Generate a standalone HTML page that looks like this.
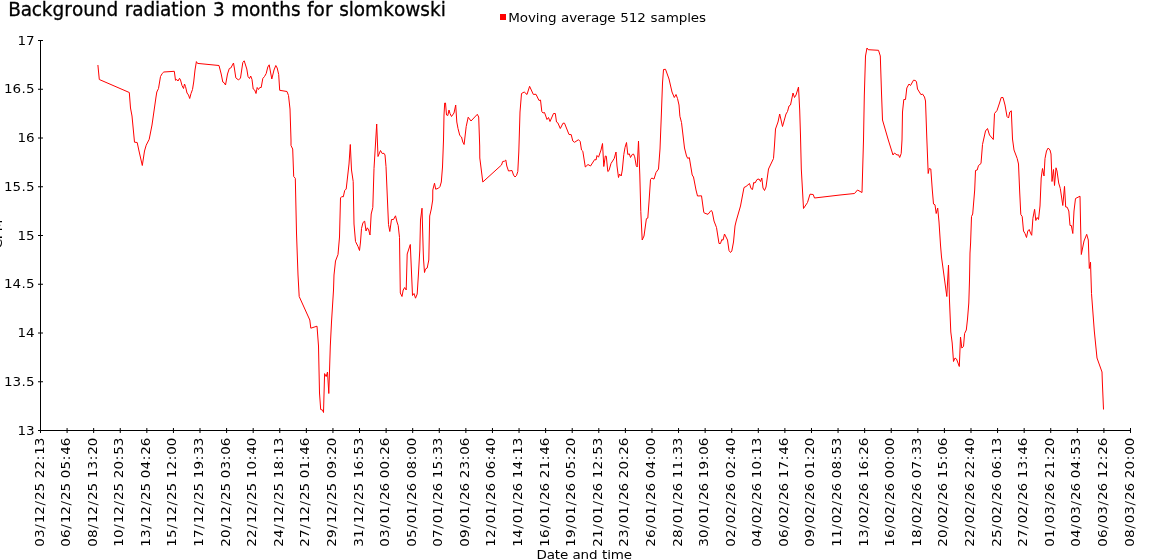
<!DOCTYPE html>
<html><head><meta charset="utf-8"><title>Background radiation 3 months for slomkowski</title>
<style>html,body{margin:0;padding:0;background:#fff;overflow:hidden}svg{display:block}text{font-family:'DejaVu Sans','Liberation Sans',sans-serif;fill:#000}</style></head><body>
<svg style="will-change:transform" width="1150" height="560" viewBox="0 0 1150 560">
<rect width="1150" height="560" fill="#fff"/>
<text font-size="18.47" stroke="#000" stroke-width=".3" transform="translate(0,15.9) scale(1,1.06)" y="0" x="8.25 20.8 31.74 41.74 52.45 64.21 71.9 83.15 94.84 106.43 118.35 124.68 132.3 143.4 154.99 159.97 171.2 178.43 183.48 194.73 206.73 212.91 224.97 231.14 249.07 260.32 272.03 279.28 290.98 300.92 307.09 313.55 324.95 332.99 339.18 348.77 353.82 365.06 383.16 393.93 405.19 420.3 430.04 440.82">Background radiation 3 months for slomkowski</text>
<rect x="500" y="14" width="6" height="6" fill="#f00"/>
<text font-size="13.5" transform="translate(0,21.9) scale(1,0.94)" x="508.25 519.7 527.9 535.85 539.55 548 556.7 561.11 569.28 577.11 585.37 590.93 599.01 607.35 615.73 620.22 628.78 637.34 646.13 650.63 657.56 665.71 678.74 687.19 690.77 698.92" y="0">Moving average 512 samples</text>
<g stroke="#000" stroke-width="1" fill="none">
<path d="M40.5 40V433"/>
<path d="M38 430.5H1131"/>
<path d="M38 40.5H43M38 89.25H43M38 138H43M38 186.75H43M38 235.5H43M38 284.25H43M38 333H43M38 381.75H43M38 430.5H43"/>
<path d="M40.5 428V433M67.09 428V433M93.67 428V433M120.26 428V433M146.84 428V433M173.43 428V433M200.01 428V433M226.6 428V433M253.18 428V433M279.77 428V433M306.35 428V433M332.94 428V433M359.52 428V433M386.11 428V433M412.7 428V433M439.28 428V433M465.87 428V433M492.45 428V433M519.04 428V433M545.62 428V433M572.21 428V433M598.79 428V433M625.38 428V433M651.96 428V433M678.55 428V433M705.13 428V433M731.72 428V433M758.3 428V433M784.89 428V433M811.48 428V433M838.06 428V433M864.65 428V433M891.23 428V433M917.82 428V433M944.4 428V433M970.99 428V433M997.57 428V433M1024.16 428V433M1050.74 428V433M1077.33 428V433M1103.91 428V433M1130.5 428V433"/>
</g>
<text font-size="13.5" transform="translate(0,44.6) scale(1,0.94)" x="17.43 26.01" y="0">17</text>
<text font-size="13.5" transform="translate(0,92.6) scale(1,0.94)" x="3.94 12.52 21.42 26.01" y="0">16.5</text>
<text font-size="13.5" transform="translate(0,141.6) scale(1,0.94)" x="17.43 26.01" y="0">16</text>
<text font-size="13.5" transform="translate(0,190.6) scale(1,0.94)" x="3.94 12.52 21.42 26.01" y="0">15.5</text>
<text font-size="13.5" transform="translate(0,239.6) scale(1,0.94)" x="17.43 26.01" y="0">15</text>
<text font-size="13.5" transform="translate(0,287.6) scale(1,0.94)" x="3.94 12.52 21.42 26.01" y="0">14.5</text>
<text font-size="13.5" transform="translate(0,336.6) scale(1,0.94)" x="17.43 26.01" y="0">14</text>
<text font-size="13.5" transform="translate(0,385.6) scale(1,0.94)" x="3.94 12.52 21.42 26.01" y="0">13.5</text>
<text font-size="13.5" transform="translate(0,434.6) scale(1,0.94)" x="17.43 26.01" y="0">13</text>
<text font-size="13.5" transform="translate(43.8,437.7) rotate(-90) scale(1,0.94)" x="-108.97 -100.38 -91.01 -85.67 -77.09 -67.71 -62.37 -53.79 -44.98 -40.46 -31.88 -22.5 -17.17 -8.59" y="0">03/12/25 22:13</text>
<text font-size="13.5" transform="translate(69.8,437.7) rotate(-90) scale(1,0.94)" x="-108.97 -100.38 -91.01 -85.67 -77.09 -67.71 -62.37 -53.79 -44.98 -40.46 -31.88 -22.5 -17.17 -8.59" y="0">06/12/25 05:46</text>
<text font-size="13.5" transform="translate(96.8,437.7) rotate(-90) scale(1,0.94)" x="-108.97 -100.38 -91.01 -85.67 -77.09 -67.71 -62.37 -53.79 -44.98 -40.46 -31.88 -22.5 -17.17 -8.59" y="0">08/12/25 13:20</text>
<text font-size="13.5" transform="translate(122.8,437.7) rotate(-90) scale(1,0.94)" x="-108.97 -100.38 -91.01 -85.67 -77.09 -67.71 -62.37 -53.79 -44.98 -40.46 -31.88 -22.5 -17.17 -8.59" y="0">10/12/25 20:53</text>
<text font-size="13.5" transform="translate(149.8,437.7) rotate(-90) scale(1,0.94)" x="-108.97 -100.38 -91.01 -85.67 -77.09 -67.71 -62.37 -53.79 -44.98 -40.46 -31.88 -22.5 -17.17 -8.59" y="0">13/12/25 04:26</text>
<text font-size="13.5" transform="translate(175.8,437.7) rotate(-90) scale(1,0.94)" x="-108.97 -100.38 -91.01 -85.67 -77.09 -67.71 -62.37 -53.79 -44.98 -40.46 -31.88 -22.5 -17.17 -8.59" y="0">15/12/25 12:00</text>
<text font-size="13.5" transform="translate(202.8,437.7) rotate(-90) scale(1,0.94)" x="-108.97 -100.38 -91.01 -85.67 -77.09 -67.71 -62.37 -53.79 -44.98 -40.46 -31.88 -22.5 -17.17 -8.59" y="0">17/12/25 19:33</text>
<text font-size="13.5" transform="translate(229.8,437.7) rotate(-90) scale(1,0.94)" x="-108.97 -100.38 -91.01 -85.67 -77.09 -67.71 -62.37 -53.79 -44.98 -40.46 -31.88 -22.5 -17.17 -8.59" y="0">20/12/25 03:06</text>
<text font-size="13.5" transform="translate(255.8,437.7) rotate(-90) scale(1,0.94)" x="-108.97 -100.38 -91.01 -85.67 -77.09 -67.71 -62.37 -53.79 -44.98 -40.46 -31.88 -22.5 -17.17 -8.59" y="0">22/12/25 10:40</text>
<text font-size="13.5" transform="translate(282.8,437.7) rotate(-90) scale(1,0.94)" x="-108.97 -100.38 -91.01 -85.67 -77.09 -67.71 -62.37 -53.79 -44.98 -40.46 -31.88 -22.5 -17.17 -8.59" y="0">24/12/25 18:13</text>
<text font-size="13.5" transform="translate(308.8,437.7) rotate(-90) scale(1,0.94)" x="-108.97 -100.38 -91.01 -85.67 -77.09 -67.71 -62.37 -53.79 -44.98 -40.46 -31.88 -22.5 -17.17 -8.59" y="0">27/12/25 01:46</text>
<text font-size="13.5" transform="translate(335.8,437.7) rotate(-90) scale(1,0.94)" x="-108.97 -100.38 -91.01 -85.67 -77.09 -67.71 -62.37 -53.79 -44.98 -40.46 -31.88 -22.5 -17.17 -8.59" y="0">29/12/25 09:20</text>
<text font-size="13.5" transform="translate(362.8,437.7) rotate(-90) scale(1,0.94)" x="-108.97 -100.38 -91.01 -85.67 -77.09 -67.71 -62.37 -53.79 -44.98 -40.46 -31.88 -22.5 -17.17 -8.59" y="0">31/12/25 16:53</text>
<text font-size="13.5" transform="translate(388.8,437.7) rotate(-90) scale(1,0.94)" x="-108.97 -100.38 -91.01 -85.67 -77.09 -67.71 -62.37 -53.79 -44.98 -40.46 -31.88 -22.5 -17.17 -8.59" y="0">03/01/26 00:26</text>
<text font-size="13.5" transform="translate(415.8,437.7) rotate(-90) scale(1,0.94)" x="-108.97 -100.38 -91.01 -85.67 -77.09 -67.71 -62.37 -53.79 -44.98 -40.46 -31.88 -22.5 -17.17 -8.59" y="0">05/01/26 08:00</text>
<text font-size="13.5" transform="translate(441.8,437.7) rotate(-90) scale(1,0.94)" x="-108.97 -100.38 -91.01 -85.67 -77.09 -67.71 -62.37 -53.79 -44.98 -40.46 -31.88 -22.5 -17.17 -8.59" y="0">07/01/26 15:33</text>
<text font-size="13.5" transform="translate(468.8,437.7) rotate(-90) scale(1,0.94)" x="-108.97 -100.38 -91.01 -85.67 -77.09 -67.71 -62.37 -53.79 -44.98 -40.46 -31.88 -22.5 -17.17 -8.59" y="0">09/01/26 23:06</text>
<text font-size="13.5" transform="translate(494.8,437.7) rotate(-90) scale(1,0.94)" x="-108.97 -100.38 -91.01 -85.67 -77.09 -67.71 -62.37 -53.79 -44.98 -40.46 -31.88 -22.5 -17.17 -8.59" y="0">12/01/26 06:40</text>
<text font-size="13.5" transform="translate(521.8,437.7) rotate(-90) scale(1,0.94)" x="-108.97 -100.38 -91.01 -85.67 -77.09 -67.71 -62.37 -53.79 -44.98 -40.46 -31.88 -22.5 -17.17 -8.59" y="0">14/01/26 14:13</text>
<text font-size="13.5" transform="translate(548.8,437.7) rotate(-90) scale(1,0.94)" x="-108.97 -100.38 -91.01 -85.67 -77.09 -67.71 -62.37 -53.79 -44.98 -40.46 -31.88 -22.5 -17.17 -8.59" y="0">16/01/26 21:46</text>
<text font-size="13.5" transform="translate(574.8,437.7) rotate(-90) scale(1,0.94)" x="-108.97 -100.38 -91.01 -85.67 -77.09 -67.71 -62.37 -53.79 -44.98 -40.46 -31.88 -22.5 -17.17 -8.59" y="0">19/01/26 05:20</text>
<text font-size="13.5" transform="translate(601.8,437.7) rotate(-90) scale(1,0.94)" x="-108.97 -100.38 -91.01 -85.67 -77.09 -67.71 -62.37 -53.79 -44.98 -40.46 -31.88 -22.5 -17.17 -8.59" y="0">21/01/26 12:53</text>
<text font-size="13.5" transform="translate(627.8,437.7) rotate(-90) scale(1,0.94)" x="-108.97 -100.38 -91.01 -85.67 -77.09 -67.71 -62.37 -53.79 -44.98 -40.46 -31.88 -22.5 -17.17 -8.59" y="0">23/01/26 20:26</text>
<text font-size="13.5" transform="translate(654.8,437.7) rotate(-90) scale(1,0.94)" x="-108.97 -100.38 -91.01 -85.67 -77.09 -67.71 -62.37 -53.79 -44.98 -40.46 -31.88 -22.5 -17.17 -8.59" y="0">26/01/26 04:00</text>
<text font-size="13.5" transform="translate(681.8,437.7) rotate(-90) scale(1,0.94)" x="-108.97 -100.38 -91.01 -85.67 -77.09 -67.71 -62.37 -53.79 -44.98 -40.46 -31.88 -22.5 -17.17 -8.59" y="0">28/01/26 11:33</text>
<text font-size="13.5" transform="translate(707.8,437.7) rotate(-90) scale(1,0.94)" x="-108.97 -100.38 -91.01 -85.67 -77.09 -67.71 -62.37 -53.79 -44.98 -40.46 -31.88 -22.5 -17.17 -8.59" y="0">30/01/26 19:06</text>
<text font-size="13.5" transform="translate(734.8,437.7) rotate(-90) scale(1,0.94)" x="-108.97 -100.38 -91.01 -85.67 -77.09 -67.71 -62.37 -53.79 -44.98 -40.46 -31.88 -22.5 -17.17 -8.59" y="0">02/02/26 02:40</text>
<text font-size="13.5" transform="translate(760.8,437.7) rotate(-90) scale(1,0.94)" x="-108.97 -100.38 -91.01 -85.67 -77.09 -67.71 -62.37 -53.79 -44.98 -40.46 -31.88 -22.5 -17.17 -8.59" y="0">04/02/26 10:13</text>
<text font-size="13.5" transform="translate(787.8,437.7) rotate(-90) scale(1,0.94)" x="-108.97 -100.38 -91.01 -85.67 -77.09 -67.71 -62.37 -53.79 -44.98 -40.46 -31.88 -22.5 -17.17 -8.59" y="0">06/02/26 17:46</text>
<text font-size="13.5" transform="translate(813.8,437.7) rotate(-90) scale(1,0.94)" x="-108.97 -100.38 -91.01 -85.67 -77.09 -67.71 -62.37 -53.79 -44.98 -40.46 -31.88 -22.5 -17.17 -8.59" y="0">09/02/26 01:20</text>
<text font-size="13.5" transform="translate(840.8,437.7) rotate(-90) scale(1,0.94)" x="-108.97 -100.38 -91.01 -85.67 -77.09 -67.71 -62.37 -53.79 -44.98 -40.46 -31.88 -22.5 -17.17 -8.59" y="0">11/02/26 08:53</text>
<text font-size="13.5" transform="translate(867.8,437.7) rotate(-90) scale(1,0.94)" x="-108.97 -100.38 -91.01 -85.67 -77.09 -67.71 -62.37 -53.79 -44.98 -40.46 -31.88 -22.5 -17.17 -8.59" y="0">13/02/26 16:26</text>
<text font-size="13.5" transform="translate(893.8,437.7) rotate(-90) scale(1,0.94)" x="-108.97 -100.38 -91.01 -85.67 -77.09 -67.71 -62.37 -53.79 -44.98 -40.46 -31.88 -22.5 -17.17 -8.59" y="0">16/02/26 00:00</text>
<text font-size="13.5" transform="translate(920.8,437.7) rotate(-90) scale(1,0.94)" x="-108.97 -100.38 -91.01 -85.67 -77.09 -67.71 -62.37 -53.79 -44.98 -40.46 -31.88 -22.5 -17.17 -8.59" y="0">18/02/26 07:33</text>
<text font-size="13.5" transform="translate(946.8,437.7) rotate(-90) scale(1,0.94)" x="-108.97 -100.38 -91.01 -85.67 -77.09 -67.71 -62.37 -53.79 -44.98 -40.46 -31.88 -22.5 -17.17 -8.59" y="0">20/02/26 15:06</text>
<text font-size="13.5" transform="translate(973.8,437.7) rotate(-90) scale(1,0.94)" x="-108.97 -100.38 -91.01 -85.67 -77.09 -67.71 -62.37 -53.79 -44.98 -40.46 -31.88 -22.5 -17.17 -8.59" y="0">22/02/26 22:40</text>
<text font-size="13.5" transform="translate(1000.8,437.7) rotate(-90) scale(1,0.94)" x="-108.97 -100.38 -91.01 -85.67 -77.09 -67.71 -62.37 -53.79 -44.98 -40.46 -31.88 -22.5 -17.17 -8.59" y="0">25/02/26 06:13</text>
<text font-size="13.5" transform="translate(1026.8,437.7) rotate(-90) scale(1,0.94)" x="-108.97 -100.38 -91.01 -85.67 -77.09 -67.71 -62.37 -53.79 -44.98 -40.46 -31.88 -22.5 -17.17 -8.59" y="0">27/02/26 13:46</text>
<text font-size="13.5" transform="translate(1053.8,437.7) rotate(-90) scale(1,0.94)" x="-108.97 -100.38 -91.01 -85.67 -77.09 -67.71 -62.37 -53.79 -44.98 -40.46 -31.88 -22.5 -17.17 -8.59" y="0">01/03/26 21:20</text>
<text font-size="13.5" transform="translate(1079.8,437.7) rotate(-90) scale(1,0.94)" x="-108.97 -100.38 -91.01 -85.67 -77.09 -67.71 -62.37 -53.79 -44.98 -40.46 -31.88 -22.5 -17.17 -8.59" y="0">04/03/26 04:53</text>
<text font-size="13.5" transform="translate(1106.8,437.7) rotate(-90) scale(1,0.94)" x="-108.97 -100.38 -91.01 -85.67 -77.09 -67.71 -62.37 -53.79 -44.98 -40.46 -31.88 -22.5 -17.17 -8.59" y="0">06/03/26 12:26</text>
<text font-size="13.5" transform="translate(1133.8,437.7) rotate(-90) scale(1,0.94)" x="-108.97 -100.38 -91.01 -85.67 -77.09 -67.71 -62.37 -53.79 -44.98 -40.46 -31.88 -22.5 -17.17 -8.59" y="0">08/03/26 20:00</text>
<text font-size="13.5" transform="translate(0,559) scale(1,0.94)" x="536.53 546.71 554.81 559.89 568.2 572.54 580.6 588.94 597.56 602.02 607.24 610.83 623.68" y="0">Date and time</text>
<text font-size="13.5" transform="translate(1.9,248.6) rotate(-90) scale(1,0.94)" x="0 9.43 17.43" y="0">CPM</text>
<polyline fill="none" stroke="#f00" stroke-width="1" stroke-linejoin="miter" points="97.9,65 99.3,79.5 129.3,92.5 130.5,108 132,116 134.5,142.2 137.2,142.5 139,151 142.3,165.5 144.5,151 146.2,145.2 149.2,139.3 152,125 156,97 156.8,92 158.5,88.5 160.5,76.5 162.2,73.5 163.8,72 174.3,71.3 175.5,80.3 176.8,79.5 178,81 179.5,78.3 180.5,80 182,85.5 183.5,88.5 184.5,84 185.5,86.5 187,93 188.5,95 189.7,98.5 191,93.5 192.5,89.5 193.7,82 195,70 196.4,61.6 197.5,63.4 219,65.5 221.2,74 222.8,82 224.2,82.8 225.5,85 227.5,74 229.3,68.5 230.8,68 233.5,63 234.5,69 235.8,77.8 238.5,80 240.5,78 242.8,62.5 244.2,60.8 246.8,69 248,76.5 249.5,78.5 250.7,76 252,79.5 253.2,89 254.7,90 256,93.5 257.2,87.5 258.5,89.5 259.8,87.5 261.2,87.5 262.8,78.5 264.5,76.5 266.2,73.5 267.8,67 269.2,64.8 271.8,79 274,70 275.8,65.5 277.2,68 278.7,74.5 279.7,90.3 287,91.5 288.5,95.5 290,109 291,140 291,145.5 292.7,149 293.7,176.5 295.3,178.3 295.7,196 296.5,233 298,275 299.2,296.5 309.8,320 310.8,328.2 317,326.2 318.5,346 319.5,393 320.7,409.5 322.5,410 323.5,412.5 324.6,373.6 326.2,376.6 327.5,372 328.8,393.5 330.3,346 331.5,322 333.5,290 334,275 335.5,261 338,254.5 339.5,237 340.5,198 341.8,196.5 343.3,196.8 344.7,190.5 346.2,189 349,164 350.3,144.5 351.5,170 353.2,181.5 354,224 355.5,241.5 358,246.5 359.5,250.5 360.5,242 361.5,228.5 363,222.5 364.7,221.2 366,231 367.3,227.8 368.7,230 370,235 371.2,214 372.8,207.5 374,168.5 376.7,124 378,156.5 380.5,150.5 382.2,153.5 384,153.3 385,155 386,166.5 388.5,224.5 389.8,231.5 391.5,219.5 393.5,219.5 395.5,215.8 397,222 398.2,225.5 399.5,237.5 400.3,293 402,296.5 403.2,290 404.7,287.5 406.2,290 407.2,254 410.3,244.5 412.5,295.5 414,293.5 415.5,298.2 417.2,294 418.5,273 419.8,250 420.5,220 422,208.2 423.2,250 423.5,259 424.5,272.5 425.5,269 427.2,268 428.8,260 429.7,216 431.3,209 432.7,200 432.8,190 434.5,183.2 435.7,189.2 438.5,188.2 440,186.5 441.3,182 442.5,167 443.5,140 444,115 444.7,103 445.5,103 446.5,115 447.8,115.5 449,110 450,113.5 451.5,116.5 454,113 455.7,105 456.8,122 458,128.5 459.8,135.5 461.5,137 462.8,142 464.1,144.5 466.2,126.5 468.2,117.2 471,121 477.3,114.3 478.7,117 479.7,146 479.8,158 482.8,182 501.5,165 502.7,161.5 504.5,161.2 505.8,160 506.8,166 508.5,171 512,170.5 513.5,175 515,177 516.5,175.5 517.8,171.5 518.8,152 520,112 521.5,93.5 524.2,92 527,94.5 529.6,86.3 533.3,94.4 536,94.3 539,100.5 540.5,100 541.8,111.5 543,113 544.5,112.5 547,119.5 548.5,117.5 550,121.5 553.5,113.5 555.3,113.5 556.5,122 557.8,122.8 560.3,128.5 563,123.2 564.5,123.2 569,134.5 571.2,134.6 572.8,141 574.5,142.3 578.5,139.7 580.2,141.5 581.5,150 582.8,151.2 585.3,167 588,164.5 590.5,166 594.7,159.5 596,160 597,155.5 598.5,157.2 601,150 602.5,143.5 603.8,166.5 605.3,156 606.3,156.2 607.8,171.5 609,170.5 611,163.5 614.2,158.5 616,152 617,166 618.5,177.5 619.5,174 621.2,176 622.3,170 623.8,154.5 625,147.5 626.5,142.5 627.8,154.5 629.3,153.8 630.5,157.5 632.2,154.5 633.5,154 634.7,156.8 636.2,165.5 637.2,167 638.5,141 639.8,175 640.8,211.5 642.2,240 644,236 646.4,218.7 647.8,218.1 649,202 650.5,179.5 651.8,178 654,179.1 656,172.5 658.5,169 660,149 661.3,116 662.5,83 663.5,69.5 665.5,69.3 669,79 672,92 674.3,97.5 676,94.5 677.5,98.5 679,105 679.9,116.3 681.5,122.5 684.5,148 686.5,156 687.8,158.5 689.3,157.5 690.7,166 692.2,175 693.5,177 696,190 697.5,196 701.5,195.8 703.8,212.5 705,213.3 708,214.3 711,210.5 712.2,211.5 714,221 716.5,227.5 719,243.5 720.5,243.5 721.8,239.5 723,240.2 724.5,234 727.5,240 729,250.5 730.5,252.5 731.8,251 733.5,242 735,226 736.2,221 740.5,206 744,187.5 746,186.5 749.5,183.5 751,188.5 752.5,189.5 753.7,182.5 755,183 757,179.5 759,179 760.5,181.5 761.8,178 763,188 764.5,190.5 766,187 768.5,169 773.5,158.5 774.5,145 775.5,129 778,122 779.7,114 782.5,126.5 786,114 787.5,111.5 789,106 790.5,105 793,93 794.5,97.5 796,95 798.5,87 799.7,110 800.5,136 801.3,169 803.5,208.5 807.5,202.5 810,194.2 813.2,194.5 814.5,198 840,195 854.5,193.5 857.5,190 862,192.5 863.5,140 864.3,96 865.5,56 867,48 868.2,49.7 878.5,50.3 880.3,56 881.5,93 882.5,120 888.3,140 893,155 894.5,153 897,155 898.5,154.8 899.7,157.5 901.2,153.5 902,140 902.5,112 903.8,99.5 905.5,99.5 906.8,88 909,84 910.5,85.5 913.5,80.2 915.5,80.5 916.5,82 917.5,89 921,94.7 922.5,94 924.5,97 925.5,101 926.8,138 928.2,173.5 929.2,168.5 930.8,169 932.3,190 933.5,204 935,204.8 936.2,213.5 937.7,208 939,222 940.5,245 941.5,257 946.8,296.5 948.5,265 949.5,301 950.8,332 952.2,343 953.5,361.5 955,358 956.5,359 959.3,366.5 960.5,337 961.8,348 963.5,346.5 964.6,333.5 966.3,330 967.5,319 968.8,303 969.5,280 970,253 970.6,243 971.5,216.5 972.7,214 974.7,190 975.5,170.5 977.2,170 978.5,165.5 981,163.5 982.5,144.5 985.5,131 987.5,128.5 989.5,135 993.3,139.5 994.5,113.5 997,110.5 999.5,103 1001.2,97.5 1003,97.5 1005,105 1007,116.5 1008.5,118 1009.8,112 1011.3,110.8 1012.5,139 1014,150 1017.2,158.5 1018.5,164 1019.7,192 1020.8,214.5 1022.2,216.5 1023.5,231 1025,233.5 1026.5,237.5 1027.8,231 1029.2,229.5 1030.5,233 1031.7,235.3 1032.9,218.3 1034.6,209.3 1035.8,220.5 1037.2,217.5 1038.5,219.5 1040,206 1041.2,178 1042.5,168.5 1044,176 1045,158.5 1046.5,151 1048.2,148 1050,150 1051,154 1052,181.5 1053.5,169.5 1054.5,185.5 1056,167.8 1057,171 1058.7,183 1060.3,188.5 1062.8,205.5 1064.5,186.4 1065.7,207 1067.2,207.2 1068.8,211 1070,225.5 1071.3,225.5 1072.8,233.5 1074,211 1075.5,198.5 1080,196.2 1080.6,225 1081.3,254.5 1084,241 1086.7,234.3 1088.3,240 1089.3,268.5 1090.5,262.2 1091.5,293.5 1094.3,331 1097,358 1102,372 1102.3,381 1103.5,409.5"/>
</svg></body></html>
